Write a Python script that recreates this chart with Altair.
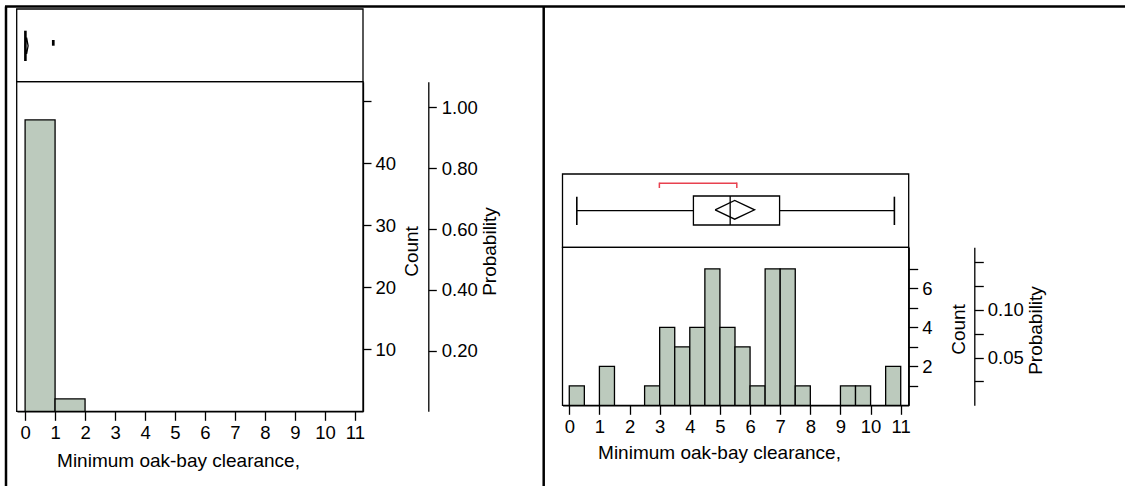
import altair as alt
import pandas as pd

FONT = "Liberation Sans"
N_OBS = 49

# ---------------- data ----------------
# left panel: histogram with bin width 1
left_bin_start = [0, 1]
left_bin_end = [1, 2]
left_counts = [47, 2]

# left panel: outlier box plot summary
left_q1, left_q3 = 0.0, 0.02
left_ci_lo, left_mean, left_ci_hi = 0.0, 0.05, 0.10
left_outliers = [0.94]

# right panel: histogram with bin width 0.5
right_bin_start = [0.0, 0.5, 1.0, 1.5, 2.0, 2.5, 3.0, 3.5, 4.0, 4.5, 5.0,
                   5.5, 6.0, 6.5, 7.0, 7.5, 8.0, 8.5, 9.0, 9.5, 10.0, 10.5]
right_bin_end = [0.5, 1.0, 1.5, 2.0, 2.5, 3.0, 3.5, 4.0, 4.5, 5.0, 5.5,
                 6.0, 6.5, 7.0, 7.5, 8.0, 8.5, 9.0, 9.5, 10.0, 10.5, 11.0]
right_counts = [1, 0, 2, 0, 0, 1, 4, 3, 4, 7, 4, 3, 1, 7, 7, 1, 0, 0, 1, 1, 0, 2]

# right panel: outlier box plot summary
right_whisker_lo, right_q1, right_median, right_q3, right_whisker_hi = 0.25, 4.12, 5.34, 6.98, 10.79
right_ci_lo, right_mean, right_ci_hi = 4.84, 5.49, 6.15
right_short_lo, right_short_hi = 2.99, 5.56

x_ticks = [0, 1, 2, 3, 4, 5, 6, 7, 8, 9, 10, 11]
left_count_ticks = [10, 20, 30, 40, 50]
left_prob_ticks = [0.2, 0.4, 0.6, 0.8, 1.0]
right_count_ticks = [1, 2, 3, 4, 5, 6, 7]
right_prob_ticks = [0.025, 0.05, 0.075, 0.1, 0.125, 0.15]

X_TITLE = "Minimum oak-bay clearance,"

# ---------------- layout ----------------
W, H = 1125, 486
BAR_FILL = "#bccabd"
RED = "#e8414f"
SW = 1.3

# left geometry
LX0, LX1 = 17.0, 363.0
L_XDOM = [-0.27, 11.27]
L_BOX_TOP, L_SPLIT, L_BASE = 9.0, 81.7, 411.3
L_CNT_TOP = (L_BASE - L_SPLIT) / 6.2
L_PROB_AX = 428.3

# right geometry
RX0, RX1 = 562.5, 908.7
R_XDOM = [-0.225, 11.265]
R_BOX_TOP, R_SPLIT, R_BASE = 174.0, 247.3, 405.3
R_CNT_TOP = (R_BASE - R_SPLIT) / 19.5
R_PROB_AX = 974.3
R_MID = 210.6


def xs(side):
    if side == "L":
        return alt.Scale(domain=L_XDOM, range=[LX0, LX1], nice=False, zero=False)
    return alt.Scale(domain=R_XDOM, range=[RX0, RX1], nice=False, zero=False)


axis_style = dict(
    grid=False, domainColor="black", tickColor="black", domainWidth=SW, tickWidth=SW,
    labelColor="black", titleColor="black", labelFont=FONT, titleFont=FONT,
    labelFontSize=18.5, titleFontSize=19, titleFontWeight="normal",
    labelFlush=False, labelOverlap=False,
)

one = alt.Data(values=[{}])


def frame(x0, x1, y0, y1):
    return alt.Chart(one).mark_rect(fillOpacity=0, stroke="black", strokeWidth=SW).encode(
        x=alt.value(x0), x2=alt.value(x1), y=alt.value(y0), y2=alt.value(y1))


def border(x0, x1, y0, y1):
    return alt.Chart(one).mark_rule(color="black", strokeWidth=2.5).encode(
        x=alt.value(x0), x2=alt.value(x1), y=alt.value(y0), y2=alt.value(y1))


# ---------------- data frames ----------------
left_hist = pd.DataFrame({"start": left_bin_start, "end": left_bin_end, "count": left_counts})
right_hist = pd.DataFrame({"start": right_bin_start, "end": right_bin_end, "count": right_counts})
right_hist = right_hist[right_hist["count"] > 0]

layers = []

# outer borders
layers.append(border(5, W, 6.5, 6.5))
layers.append(border(6, 6, 6.5, H))
layers.append(border(543.7, 543.7, 6.5, H))

# ===== LEFT PANEL =====
layers.append(frame(LX0 - 0.3, LX1, L_BOX_TOP, L_SPLIT))
layers.append(frame(LX0 - 0.3, LX1, L_SPLIT, L_BASE))

layers.append(
    alt.Chart(left_hist).mark_rect(fill=BAR_FILL, stroke="black", strokeWidth=SW).encode(
        x=alt.X("start:Q", scale=xs("L"), axis=alt.Axis(
            orient="bottom", offset=L_BASE - H, values=x_ticks, format="d", tickSize=9,
            labelPadding=3, title=X_TITLE, titleX=178, titleY=49, titleAlign="center",
            titleBaseline="middle", **axis_style)),
        x2="end:Q",
        y=alt.Y("count:Q", scale=alt.Scale(domain=[0, L_CNT_TOP], range=[L_BASE, L_SPLIT], nice=False),
                axis=alt.Axis(orient="right", offset=LX1 - W, values=left_count_ticks, tickSize=8,
                              labelPadding=4, labelExpr="datum.value < 50 ? datum.label : ''",
                              title="Count", titleAngle=270, titleX=48.7, titleY=251,
                              titleAlign="center", titleBaseline="middle", **axis_style)),
        y2=alt.datum(0),
    )
)

layers.append(
    alt.Chart(left_hist).transform_calculate(prob=f"datum.count / {N_OBS}").mark_point(opacity=0).encode(
        x=alt.X("start:Q", scale=xs("L"), axis=None),
        y=alt.Y("prob:Q", scale=alt.Scale(domain=[0, L_CNT_TOP / N_OBS], range=[L_BASE, L_SPLIT], nice=False),
                axis=alt.Axis(orient="right", offset=L_PROB_AX - W, values=left_prob_ticks, format=".2f",
                              tickSize=8, labelPadding=5, title="Probability", titleAngle=270,
                              titleX=61, titleY=251, titleAlign="center", titleBaseline="middle",
                              **axis_style)),
    )
)

# left box plot
left_box = pd.DataFrame({"q1": [left_q1], "q3": [left_q3]})
layers.append(
    alt.Chart(left_box).mark_rect(fillOpacity=0, stroke="black", strokeWidth=2).encode(
        x=alt.X("q1:Q", scale=xs("L"), axis=None), x2="q3:Q",
        y=alt.value(31.7), y2=alt.value(60)))

left_diamond = pd.DataFrame({
    "x": [left_ci_lo, left_mean, left_ci_hi, left_mean, left_ci_lo],
    "y": [0, 1, 0, -1, 0], "i": [0, 1, 2, 3, 4]})
layers.append(
    alt.Chart(left_diamond).mark_line(color="black", strokeWidth=SW).encode(
        x=alt.X("x:Q", scale=xs("L"), axis=None),
        y=alt.Y("y:Q", scale=alt.Scale(domain=[-1, 1], range=[54, 37.6]), axis=None),
        order="i:Q"))

left_out = pd.DataFrame({"x": left_outliers})
layers.append(
    alt.Chart(left_out).mark_rule(color="black", strokeWidth=2.7).encode(
        x=alt.X("x:Q", scale=xs("L"), axis=None), y=alt.value(40), y2=alt.value(45.7)))

# ===== RIGHT PANEL =====
layers.append(frame(RX0, RX1, R_BOX_TOP, R_SPLIT))
layers.append(frame(RX0, RX1, R_SPLIT, R_BASE))

layers.append(
    alt.Chart(right_hist).mark_rect(fill=BAR_FILL, stroke="black", strokeWidth=SW).encode(
        x=alt.X("start:Q", scale=xs("R"), axis=alt.Axis(
            orient="bottom", offset=R_BASE - H, values=x_ticks, format="d", tickSize=9,
            labelPadding=3, title=X_TITLE, titleX=719, titleY=47, titleAlign="center",
            titleBaseline="middle", **axis_style)),
        x2="end:Q",
        y=alt.Y("count:Q", scale=alt.Scale(domain=[0, R_CNT_TOP], range=[R_BASE, R_SPLIT], nice=False),
                axis=alt.Axis(orient="right", offset=RX1 - W, values=right_count_ticks, tickSize=9,
                              labelPadding=4, labelExpr="datum.value % 2 == 0 ? datum.label : ''",
                              title="Count", titleAngle=270, titleX=49.6, titleY=329,
                              titleAlign="center", titleBaseline="middle", **axis_style)),
        y2=alt.datum(0),
    )
)

layers.append(
    alt.Chart(right_hist).transform_calculate(prob=f"datum.count / {N_OBS}").mark_point(opacity=0).encode(
        x=alt.X("start:Q", scale=xs("R"), axis=None),
        y=alt.Y("prob:Q", scale=alt.Scale(domain=[0, R_CNT_TOP / N_OBS], range=[R_BASE, R_SPLIT], nice=False),
                axis=alt.Axis(orient="right", offset=R_PROB_AX - W, values=right_prob_ticks, tickSize=9,
                              labelPadding=4,
                              labelExpr="(abs(datum.value - 0.05) < 1e-6 || abs(datum.value - 0.1) < 1e-6) ? format(datum.value, '.2f') : ''",
                              title="Probability", titleAngle=270, titleX=60.7, titleY=330,
                              titleAlign="center", titleBaseline="middle", **axis_style)),
    )
)

# right box plot: whiskers
whisk = pd.DataFrame({"a": [right_whisker_lo, right_q3], "b": [right_q1, right_whisker_hi]})
layers.append(
    alt.Chart(whisk).mark_rule(color="black", strokeWidth=SW).encode(
        x=alt.X("a:Q", scale=xs("R"), axis=None), x2="b:Q", y=alt.value(R_MID)))

caps = pd.DataFrame({"x": [right_whisker_lo, right_whisker_hi]})
layers.append(
    alt.Chart(caps).mark_rule(color="black", strokeWidth=1.6).encode(
        x=alt.X("x:Q", scale=xs("R"), axis=None), y=alt.value(196.7), y2=alt.value(225)))

rbox = pd.DataFrame({"q1": [right_q1], "q3": [right_q3]})
layers.append(
    alt.Chart(rbox).mark_rect(fillOpacity=0, stroke="black", strokeWidth=SW).encode(
        x=alt.X("q1:Q", scale=xs("R"), axis=None), x2="q3:Q",
        y=alt.value(196), y2=alt.value(225)))

rmed = pd.DataFrame({"x": [right_median]})
layers.append(
    alt.Chart(rmed).mark_rule(color="black", strokeWidth=SW).encode(
        x=alt.X("x:Q", scale=xs("R"), axis=None), y=alt.value(196), y2=alt.value(225)))

right_diamond = pd.DataFrame({
    "x": [right_ci_lo, right_mean, right_ci_hi, right_mean, right_ci_lo],
    "y": [0, 1, 0, -1, 0], "i": [0, 1, 2, 3, 4]})
layers.append(
    alt.Chart(right_diamond).mark_line(color="black", strokeWidth=SW).encode(
        x=alt.X("x:Q", scale=xs("R"), axis=None),
        y=alt.Y("y:Q", scale=alt.Scale(domain=[-1, 1], range=[219.2, 200.5]), axis=None),
        order="i:Q"))

short = pd.DataFrame({"a": [right_short_lo], "b": [right_short_hi]})
layers.append(
    alt.Chart(short).mark_rule(color=RED, strokeWidth=1.5).encode(
        x=alt.X("a:Q", scale=xs("R"), axis=None), x2="b:Q", y=alt.value(183.3)))
short_ends = pd.DataFrame({"x": [right_short_lo, right_short_hi]})
layers.append(
    alt.Chart(short_ends).mark_rule(color=RED, strokeWidth=1.5).encode(
        x=alt.X("x:Q", scale=xs("R"), axis=None), y=alt.value(182.6), y2=alt.value(188)))

chart = alt.layer(*layers).resolve_scale(x="independent", y="independent").properties(
    width=W, height=H, padding=0, autosize=alt.AutoSizeParams(type="none"),
    background="white",
).configure_view(stroke=None)

chart.save("out.html", embed_options={"renderer": "svg", "actions": False})
